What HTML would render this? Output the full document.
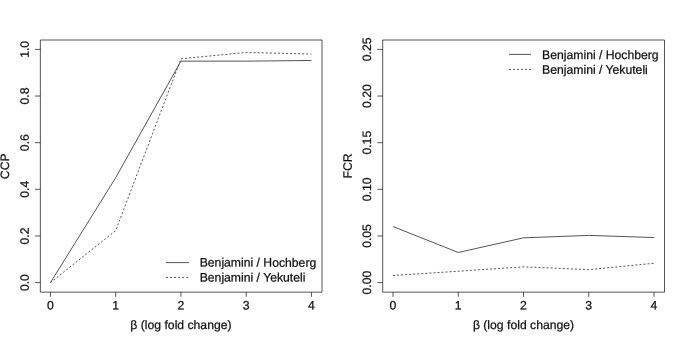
<!DOCTYPE html>
<html><head><meta charset="utf-8"><title>CCP and FCR</title>
<style>
html,body{margin:0;padding:0;background:#fff;}
svg{display:block;}
text{font-family:"Liberation Sans",sans-serif;font-size:12.2px;fill:#111;stroke:#111;stroke-width:0.25px;}
.ln{fill:none;stroke:#111;stroke-width:0.72;stroke-linejoin:round;}
.dt{stroke-dasharray:2.0 2.05;}
</style></head><body>
<svg width="685" height="342" viewBox="0 0 685 342">
<rect x="0" y="0" width="685" height="342" fill="#fff"/>

<g>
<rect class="ln" x="40.35" y="40.0" width="281.65" height="252.15"/>
<line class="ln" x1="50.45" y1="292.15" x2="50.45" y2="296.8"/>
<text transform="translate(50.45,309.6) rotate(0.1)" text-anchor="middle">0</text>
<line class="ln" x1="115.70" y1="292.15" x2="115.70" y2="296.8"/>
<text transform="translate(115.70,309.6) rotate(0.1)" text-anchor="middle">1</text>
<line class="ln" x1="180.95" y1="292.15" x2="180.95" y2="296.8"/>
<text transform="translate(180.95,309.6) rotate(0.1)" text-anchor="middle">2</text>
<line class="ln" x1="246.20" y1="292.15" x2="246.20" y2="296.8"/>
<text transform="translate(246.20,309.6) rotate(0.1)" text-anchor="middle">3</text>
<line class="ln" x1="311.45" y1="292.15" x2="311.45" y2="296.8"/>
<text transform="translate(311.45,309.6) rotate(0.1)" text-anchor="middle">4</text>
<line class="ln" x1="35.05" y1="282.60" x2="40.35" y2="282.60"/>
<text transform="translate(28.80,282.60) rotate(-89.9)" text-anchor="middle">0.0</text>
<line class="ln" x1="35.05" y1="235.96" x2="40.35" y2="235.96"/>
<text transform="translate(28.80,235.96) rotate(-89.9)" text-anchor="middle">0.2</text>
<line class="ln" x1="35.05" y1="189.32" x2="40.35" y2="189.32"/>
<text transform="translate(28.80,189.32) rotate(-89.9)" text-anchor="middle">0.4</text>
<line class="ln" x1="35.05" y1="142.68" x2="40.35" y2="142.68"/>
<text transform="translate(28.80,142.68) rotate(-89.9)" text-anchor="middle">0.6</text>
<line class="ln" x1="35.05" y1="96.04" x2="40.35" y2="96.04"/>
<text transform="translate(28.80,96.04) rotate(-89.9)" text-anchor="middle">0.8</text>
<line class="ln" x1="35.05" y1="49.40" x2="40.35" y2="49.40"/>
<text transform="translate(28.80,49.40) rotate(-89.9)" text-anchor="middle">1.0</text>
<text transform="translate(180.95,329) rotate(0.1)" text-anchor="middle">β (log fold change)</text>
<text transform="translate(8.90,166.3) rotate(-89.9)" text-anchor="middle">CCP</text>
<polyline class="ln" points="50.45,282.60 115.70,177.66 180.95,61.15 246.20,61.15 311.45,60.48"/>
<polyline class="ln dt" points="50.45,282.60 115.70,230.60 180.95,58.80 246.20,52.43 311.45,54.06"/>
<line class="ln" x1="166.0" y1="262.6" x2="188.9" y2="262.6"/>
<line class="ln dt" x1="166.0" y1="277.4" x2="188.9" y2="277.4"/>
<text transform="translate(199.7,266.5) rotate(0.1)">Benjamini / Hochberg</text>
<text transform="translate(199.7,281.4) rotate(0.1)">Benjamini / Yekuteli</text>
</g>
<g>
<rect class="ln" x="382.70" y="40.0" width="281.80" height="252.15"/>
<line class="ln" x1="393.00" y1="292.15" x2="393.00" y2="296.8"/>
<text transform="translate(393.00,309.6) rotate(0.1)" text-anchor="middle">0</text>
<line class="ln" x1="458.25" y1="292.15" x2="458.25" y2="296.8"/>
<text transform="translate(458.25,309.6) rotate(0.1)" text-anchor="middle">1</text>
<line class="ln" x1="523.50" y1="292.15" x2="523.50" y2="296.8"/>
<text transform="translate(523.50,309.6) rotate(0.1)" text-anchor="middle">2</text>
<line class="ln" x1="588.75" y1="292.15" x2="588.75" y2="296.8"/>
<text transform="translate(588.75,309.6) rotate(0.1)" text-anchor="middle">3</text>
<line class="ln" x1="654.00" y1="292.15" x2="654.00" y2="296.8"/>
<text transform="translate(654.00,309.6) rotate(0.1)" text-anchor="middle">4</text>
<line class="ln" x1="377.40" y1="282.60" x2="382.70" y2="282.60"/>
<text transform="translate(371.10,282.60) rotate(-89.9)" text-anchor="middle">0.00</text>
<line class="ln" x1="377.40" y1="235.96" x2="382.70" y2="235.96"/>
<text transform="translate(371.10,235.96) rotate(-89.9)" text-anchor="middle">0.05</text>
<line class="ln" x1="377.40" y1="189.32" x2="382.70" y2="189.32"/>
<text transform="translate(371.10,189.32) rotate(-89.9)" text-anchor="middle">0.10</text>
<line class="ln" x1="377.40" y1="142.68" x2="382.70" y2="142.68"/>
<text transform="translate(371.10,142.68) rotate(-89.9)" text-anchor="middle">0.15</text>
<line class="ln" x1="377.40" y1="96.04" x2="382.70" y2="96.04"/>
<text transform="translate(371.10,96.04) rotate(-89.9)" text-anchor="middle">0.20</text>
<line class="ln" x1="377.40" y1="49.40" x2="382.70" y2="49.40"/>
<text transform="translate(371.10,49.40) rotate(-89.9)" text-anchor="middle">0.25</text>
<text transform="translate(523.50,329) rotate(0.1)" text-anchor="middle">β (log fold change)</text>
<text transform="translate(351.80,166.0) rotate(-89.9)" text-anchor="middle">FCR</text>
<polyline class="ln" points="393.00,226.54 458.25,252.47 523.50,237.83 588.75,235.40 654.00,237.55"/>
<polyline class="ln dt" points="393.00,275.51 458.25,271.22 523.50,266.84 588.75,269.63 654.00,263.29"/>
<line class="ln" x1="508.9" y1="54.4" x2="531.1" y2="54.4"/>
<line class="ln dt" x1="508.9" y1="69.4" x2="531.1" y2="69.4"/>
<text transform="translate(542.1,58.9) rotate(0.1)">Benjamini / Hochberg</text>
<text transform="translate(542.1,73.7) rotate(0.1)">Benjamini / Yekuteli</text>
</g>
</svg>
</body></html>
